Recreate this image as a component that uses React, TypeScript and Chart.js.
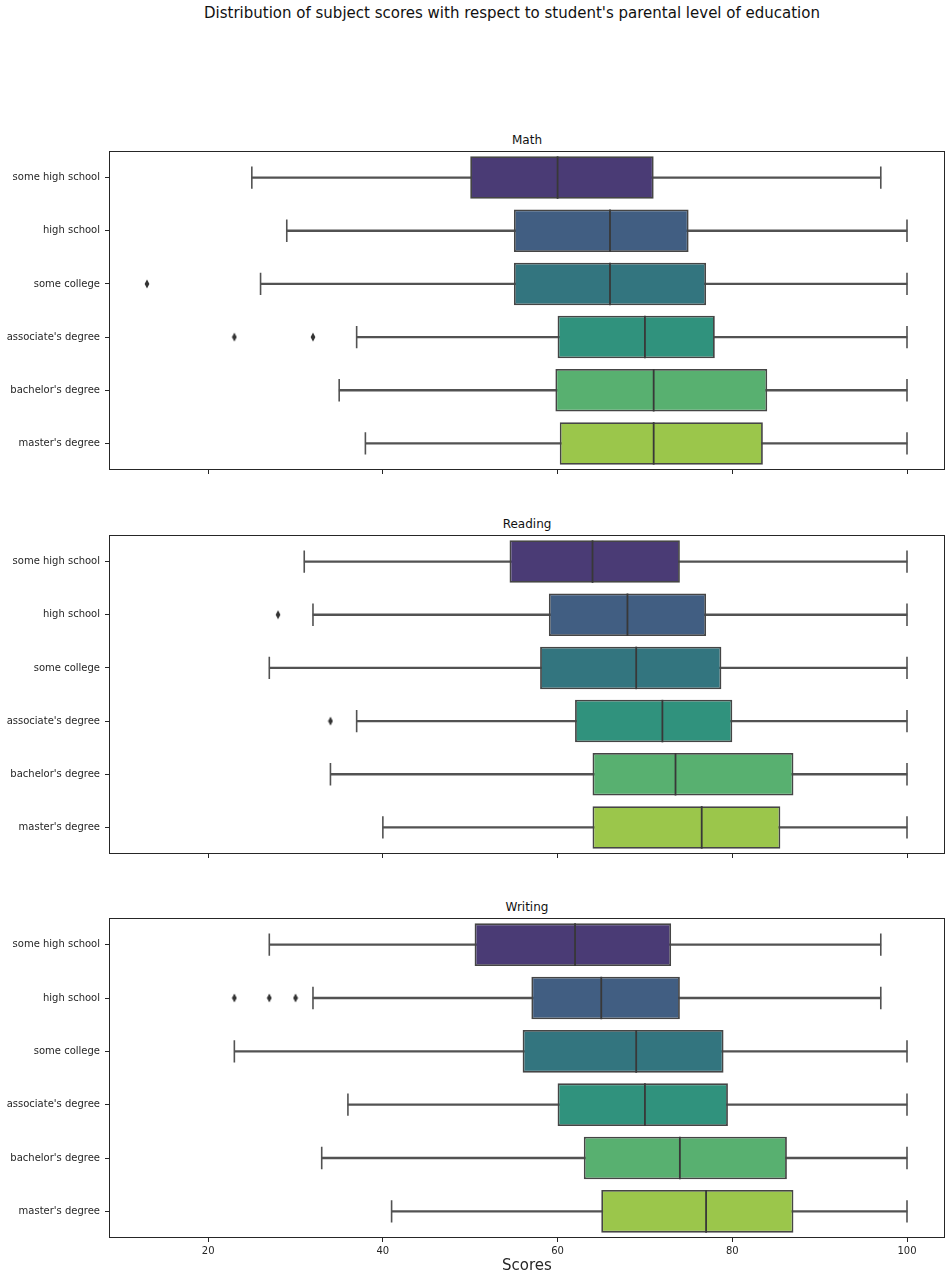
import React, { useEffect, useRef } from "react";
import { Chart, registerables } from "chart.js";

Chart.register(...registerables);

const categories = [
  "some high school",
  "high school",
  "some college",
  "associate's degree",
  "bachelor's degree",
  "master's degree",
];
const palette = ["#4a3b75", "#415e82", "#33757f", "#30927d", "#58b070", "#9bc64b"];

const mathQ1 = [50, 55, 55, 60, 59.75, 60.25];
const mathMedian = [60, 66, 66, 70, 71, 71];
const mathQ3 = [71, 75, 77, 78, 84, 83.5];
const mathLow = [25, 29, 26, 37, 35, 38];
const mathHigh = [97, 100, 100, 100, 100, 100];
const mathOutliers: [number, number][] = [[2, 13], [3, 23], [3, 32]];

const readingQ1 = [54.5, 59, 58, 62, 64, 64];
const readingMedian = [64, 68, 69, 72, 73.5, 76.5];
const readingQ3 = [74, 77, 78.75, 80, 87, 85.5];
const readingLow = [31, 32, 27, 37, 34, 40];
const readingHigh = [100, 100, 100, 100, 100, 100];
const readingOutliers: [number, number][] = [[1, 28], [3, 34]];

const writingQ1 = [50.5, 57, 56, 60, 63, 65];
const writingMedian = [62, 65, 69, 70, 74, 77];
const writingQ3 = [73, 74, 79, 79.5, 86.25, 87];
const writingLow = [27, 32, 23, 36, 33, 41];
const writingHigh = [97, 97, 100, 100, 100, 100];
const writingOutliers: [number, number][] = [[1, 23], [1, 27], [1, 30]];

const xMin = 8.65;
const xMax = 104.35;
const xStep = 20;

const LINE = "#3f3f3f";
const AXIS = "#262626";
const FONT = "'DejaVu Sans', sans-serif";
const PAD = 30;
const PLOT_RIGHT = 945;

type Panel = {
  title: string;
  q1: number[];
  med: number[];
  q3: number[];
  lo: number[];
  hi: number[];
  outliers: [number, number][];
  plotTop: number;
  plotBottom: number;
  axisH: number;
  showX: boolean;
};

const panels: Panel[] = [
  { title: "Math", q1: mathQ1, med: mathMedian, q3: mathQ3, lo: mathLow, hi: mathHigh, outliers: mathOutliers, plotTop: 151, plotBottom: 470, axisH: PAD, showX: false },
  { title: "Reading", q1: readingQ1, med: readingMedian, q3: readingQ3, lo: readingLow, hi: readingHigh, outliers: readingOutliers, plotTop: 535, plotBottom: 854, axisH: PAD, showX: false },
  { title: "Writing", q1: writingQ1, med: writingMedian, q3: writingQ3, lo: writingLow, hi: writingHigh, outliers: writingOutliers, plotTop: 918, plotBottom: 1238, axisH: 43, showX: true },
];

const framePlugin = {
  id: "frame",
  afterDraw(chart: any) {
    const { ctx, chartArea } = chart;
    ctx.save();
    ctx.strokeStyle = AXIS;
    ctx.lineWidth = 1;
    ctx.strokeRect(chartArea.left + 0.5, chartArea.top + 0.5, chartArea.right - chartArea.left - 1, chartArea.bottom - chartArea.top - 1);
    ctx.restore();
  },
};

function BoxPanel({ p }: { p: Panel }) {
  const ref = useRef<HTMLCanvasElement>(null);
  const h = PAD + (p.plotBottom - p.plotTop) + p.axisH;
  const w = PLOT_RIGHT + PAD;
  useEffect(() => {
    const diamond = document.createElement("canvas");
    diamond.width = 6;
    diamond.height = 10;
    const dctx = diamond.getContext("2d")!;
    dctx.fillStyle = "#333333";
    dctx.beginPath();
    dctx.moveTo(3, 0.5);
    dctx.lineTo(5.4, 5);
    dctx.lineTo(3, 9.5);
    dctx.lineTo(0.6, 5);
    dctx.closePath();
    dctx.fill();

    const caps: { x: number; y: string }[] = [];
    categories.forEach((c, i) => {
      caps.push({ x: p.lo[i], y: c });
      caps.push({ x: p.hi[i], y: c });
    });
    const boxRadius = ((p.plotBottom - p.plotTop) / categories.length) * 0.4;

    const chart = new Chart(ref.current!, {
      type: "bar",
      data: {
        labels: categories,
        datasets: [
          {
            type: "scatter",
            label: "outliers",
            data: p.outliers.map(([i, v]) => ({ x: v, y: categories[i] })),
            pointStyle: diamond,
            pointRadius: 5,
            order: 1,
          } as any,
          {
            type: "scatter",
            label: "medians",
            data: categories.map((c, i) => ({ x: p.med[i], y: c })),
            pointStyle: "line",
            pointRotation: 90,
            pointRadius: boxRadius,
            pointBorderWidth: 1.8,
            pointBorderColor: "#383838",
            order: 2,
          } as any,
          {
            type: "scatter",
            label: "caps",
            data: caps,
            pointStyle: "line",
            pointRotation: 90,
            pointRadius: boxRadius / 2 + 0.5,
            pointBorderWidth: 1.6,
            pointBorderColor: "#525252",
            order: 3,
          } as any,
          {
            type: "bar",
            label: "boxes",
            data: categories.map((c, i) => [p.q1[i], p.q3[i]]),
            backgroundColor: palette,
            borderColor: "#454545",
            borderWidth: 1.8,
            borderSkipped: false,
            barPercentage: 0.8,
            categoryPercentage: 1,
            grouped: false,
            order: 4,
          } as any,
          {
            type: "bar",
            label: "whiskers",
            data: categories.map((c, i) => [p.lo[i], p.hi[i]]),
            backgroundColor: "#525252",
            borderWidth: 0,
            barThickness: 1.7,
            grouped: false,
            order: 5,
          } as any,
        ],
      },
      options: {
        indexAxis: "y",
        animation: false,
        responsive: false,
        maintainAspectRatio: false,
        layout: { padding: { top: PAD, right: PAD, left: 0, bottom: 0 } },
        plugins: { legend: { display: false }, tooltip: { enabled: false }, title: { display: false } },
        scales: {
          x: {
            type: "linear",
            min: xMin,
            max: xMax,
            beginAtZero: false,
            ticks: {
              stepSize: xStep,
              includeBounds: false,
              color: p.showX ? AXIS : "rgba(0,0,0,0)",
              font: { size: 10, family: FONT },
              padding: 3,
              maxRotation: 0,
            },
            grid: { display: true, drawOnChartArea: false, drawTicks: true, tickLength: 4, tickColor: AXIS, tickWidth: 1 },
            border: { display: false },
            title: {
              display: p.showX,
              text: "Scores",
              color: AXIS,
              font: { size: 15, family: FONT },
              padding: { top: 0, bottom: 6 },
            },
            afterFit: (s: any) => {
              s.height = p.axisH;
            },
          },
          y: {
            type: "category",
            offset: true,
            ticks: { color: AXIS, font: { size: 10, family: FONT }, padding: 5 },
            grid: { display: true, offset: false, drawOnChartArea: false, drawTicks: true, tickLength: 4, tickColor: AXIS, tickWidth: 1 },
            border: { display: false },
            afterFit: (s: any) => {
              s.width = 109;
            },
          },
        } as any,
      } as any,
      plugins: [framePlugin],
    });
    return () => chart.destroy();
  }, []);
  return (
    <>
      <div
        style={{
          position: "absolute",
          left: 109,
          width: 836,
          top: p.plotTop - 18,
          height: 14,
          lineHeight: "14px",
          textAlign: "center",
          fontSize: 12,
          color: "#111",
          fontFamily: FONT,
        }}
      >
        {p.title}
      </div>
      <canvas
        ref={ref}
        width={w}
        height={h}
        style={{ position: "absolute", left: 0, top: p.plotTop - PAD, width: w, height: h }}
      />
    </>
  );
}

export default function App() {
  return (
    <div
      style={{
        position: "absolute",
        left: 0,
        top: 0,
        width: 951,
        height: 1281,
        background: "#fff",
        overflow: "hidden",
        fontFamily: FONT,
      }}
    >
      <div
        style={{
          position: "absolute",
          left: 512,
          top: 4,
          transform: "translateX(-50%)",
          whiteSpace: "nowrap",
          fontSize: 15,
          lineHeight: "18px",
          color: "#111",
        }}
      >
        Distribution of subject scores with respect to student's parental level of education
      </div>
      {panels.map((p) => (
        <BoxPanel key={p.title} p={p} />
      ))}
    </div>
  );
}
